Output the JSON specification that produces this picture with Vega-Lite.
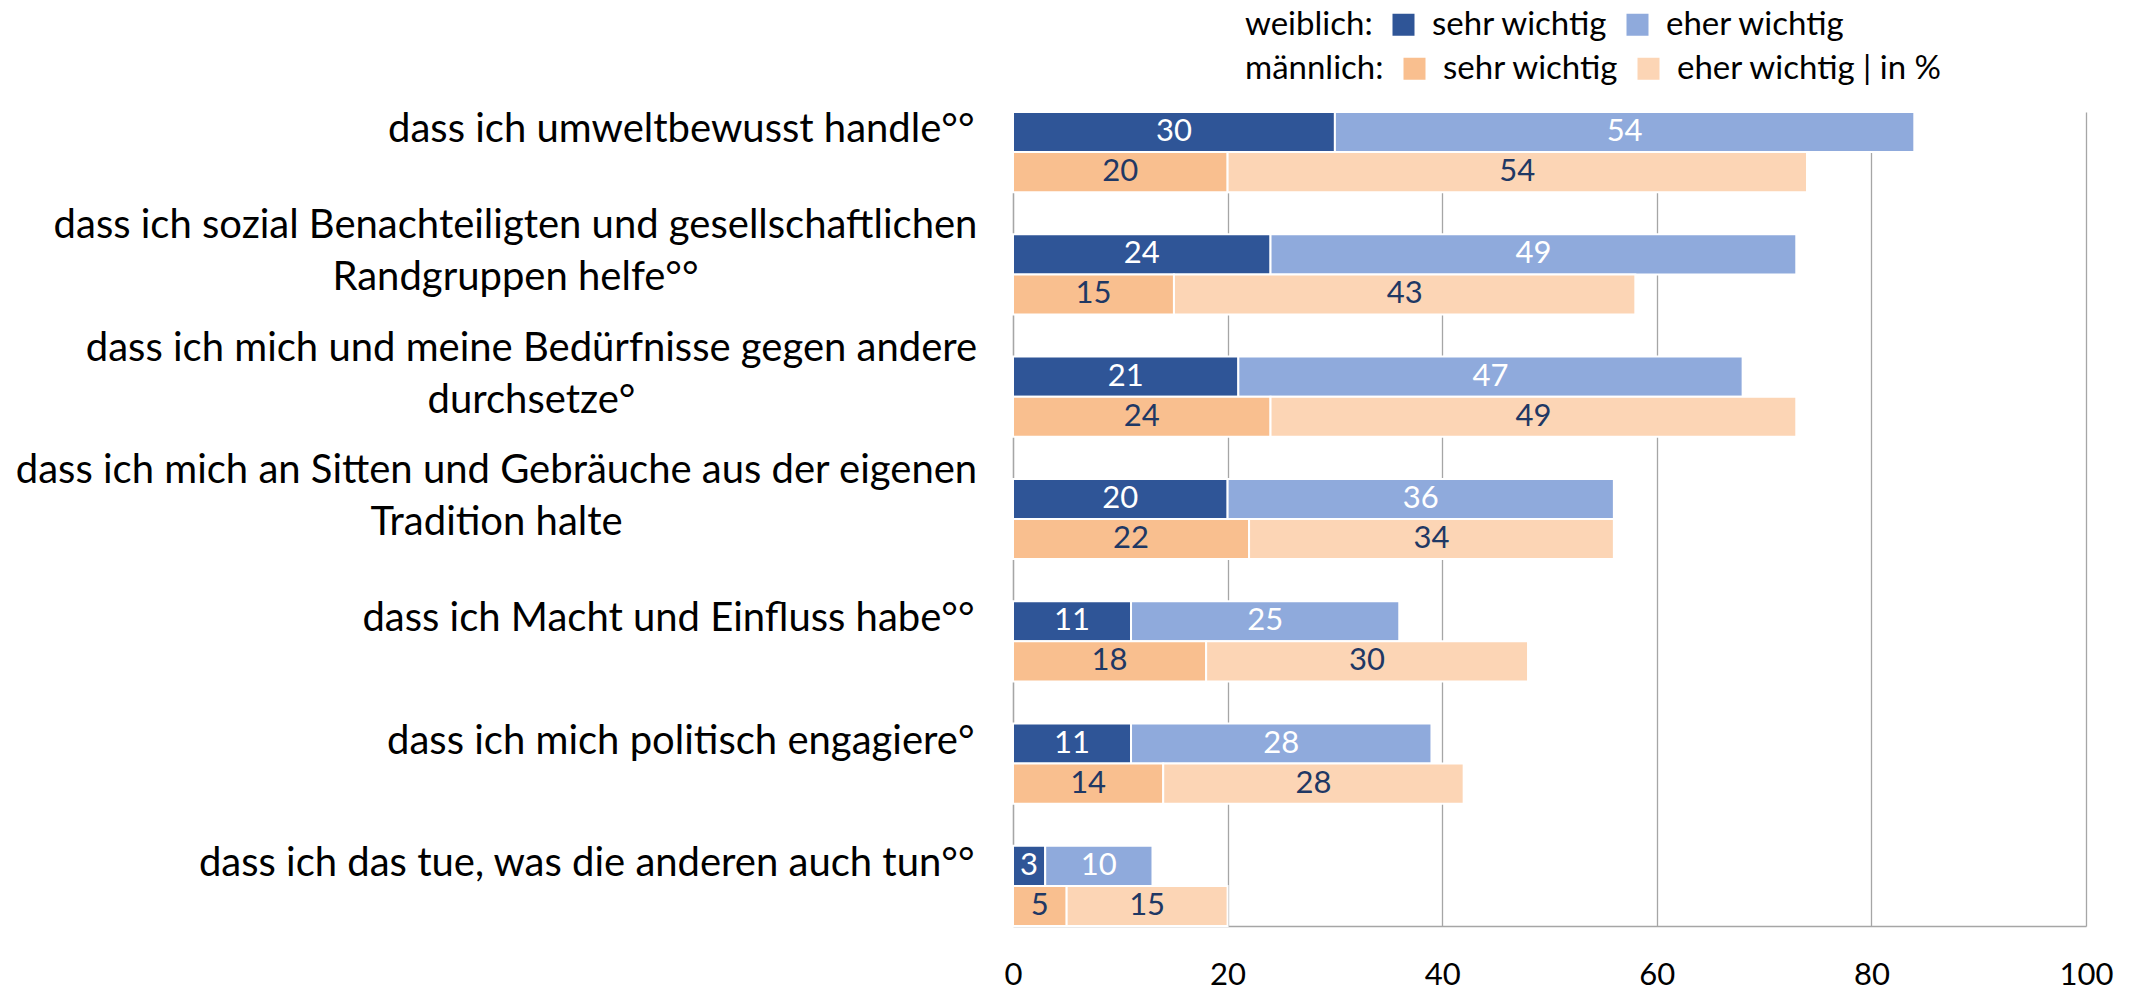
{
  "$schema": "https://vega.github.io/schema/vega-lite/v6.json",
  "width": 1073,
  "height": 814,
  "autosize": {"type": "none"},
  "padding": {"left": 1013, "top": 112, "right": 60, "bottom": 65},
  "background": "white",
  "config": {
    "view": {"stroke": null},
    "font": "Lato",
    "text": {"font": "Lato"}
  },
  "data": {
    "values": [
      {"item": "dass ich umweltbewusst handle°°", "gender": "weiblich", "level": "sehr wichtig", "value": 30},
      {"item": "dass ich umweltbewusst handle°°", "gender": "weiblich", "level": "eher wichtig", "value": 54},
      {"item": "dass ich umweltbewusst handle°°", "gender": "männlich", "level": "sehr wichtig", "value": 20},
      {"item": "dass ich umweltbewusst handle°°", "gender": "männlich", "level": "eher wichtig", "value": 54},
      {"item": "dass ich sozial Benachteiligten und gesellschaftlichen\nRandgruppen helfe°°", "gender": "weiblich", "level": "sehr wichtig", "value": 24},
      {"item": "dass ich sozial Benachteiligten und gesellschaftlichen\nRandgruppen helfe°°", "gender": "weiblich", "level": "eher wichtig", "value": 49},
      {"item": "dass ich sozial Benachteiligten und gesellschaftlichen\nRandgruppen helfe°°", "gender": "männlich", "level": "sehr wichtig", "value": 15},
      {"item": "dass ich sozial Benachteiligten und gesellschaftlichen\nRandgruppen helfe°°", "gender": "männlich", "level": "eher wichtig", "value": 43},
      {"item": "dass ich mich und meine Bedürfnisse gegen andere\ndurchsetze°", "gender": "weiblich", "level": "sehr wichtig", "value": 21},
      {"item": "dass ich mich und meine Bedürfnisse gegen andere\ndurchsetze°", "gender": "weiblich", "level": "eher wichtig", "value": 47},
      {"item": "dass ich mich und meine Bedürfnisse gegen andere\ndurchsetze°", "gender": "männlich", "level": "sehr wichtig", "value": 24},
      {"item": "dass ich mich und meine Bedürfnisse gegen andere\ndurchsetze°", "gender": "männlich", "level": "eher wichtig", "value": 49},
      {"item": "dass ich mich an Sitten und Gebräuche aus der eigenen\nTradition halte", "gender": "weiblich", "level": "sehr wichtig", "value": 20},
      {"item": "dass ich mich an Sitten und Gebräuche aus der eigenen\nTradition halte", "gender": "weiblich", "level": "eher wichtig", "value": 36},
      {"item": "dass ich mich an Sitten und Gebräuche aus der eigenen\nTradition halte", "gender": "männlich", "level": "sehr wichtig", "value": 22},
      {"item": "dass ich mich an Sitten und Gebräuche aus der eigenen\nTradition halte", "gender": "männlich", "level": "eher wichtig", "value": 34},
      {"item": "dass ich Macht und Einfluss habe°°", "gender": "weiblich", "level": "sehr wichtig", "value": 11},
      {"item": "dass ich Macht und Einfluss habe°°", "gender": "weiblich", "level": "eher wichtig", "value": 25},
      {"item": "dass ich Macht und Einfluss habe°°", "gender": "männlich", "level": "sehr wichtig", "value": 18},
      {"item": "dass ich Macht und Einfluss habe°°", "gender": "männlich", "level": "eher wichtig", "value": 30},
      {"item": "dass ich mich politisch engagiere°", "gender": "weiblich", "level": "sehr wichtig", "value": 11},
      {"item": "dass ich mich politisch engagiere°", "gender": "weiblich", "level": "eher wichtig", "value": 28},
      {"item": "dass ich mich politisch engagiere°", "gender": "männlich", "level": "sehr wichtig", "value": 14},
      {"item": "dass ich mich politisch engagiere°", "gender": "männlich", "level": "eher wichtig", "value": 28},
      {"item": "dass ich das tue, was die anderen auch tun°°", "gender": "weiblich", "level": "sehr wichtig", "value": 3},
      {"item": "dass ich das tue, was die anderen auch tun°°", "gender": "weiblich", "level": "eher wichtig", "value": 10},
      {"item": "dass ich das tue, was die anderen auch tun°°", "gender": "männlich", "level": "sehr wichtig", "value": 5},
      {"item": "dass ich das tue, was die anderen auch tun°°", "gender": "männlich", "level": "eher wichtig", "value": 15}
    ]
  },
  "encoding": {
    "y": {
      "field": "item",
      "type": "nominal",
      "sort": null,
      "title": null,
      "scale": {"paddingInner": 0.344, "paddingOuter": 0},
      "axis": {
        "labelExpr": "split(datum.value, '\\n')",
        "labelFontSize": 40,
        "labelColor": "#000000",
        "labelLineHeight": 52,
        "labelBaseline": "middle",
        "labelOffset": {"condition": {"test": "indexof(datum.value, '\\n') >= 0", "value": -48}, "value": -22},
        "labelLimit": 2000,
        "labelOverlap": false,
        "labelBound": false,
        "ticks": false,
        "domainColor": "#A6A6A6",
        "domainWidth": 1.3,
        "labelAlign": {"condition": {"test": "indexof(datum.value, '\\n') >= 0", "value": "center"}, "value": "right"},
        "labelPadding": {
          "condition": [
            {"test": "indexof(datum.value, 'Randgruppen') >= 0", "value": 498},
            {"test": "indexof(datum.value, 'durchsetze') >= 0", "value": 482},
            {"test": "indexof(datum.value, 'Tradition') >= 0", "value": 517}
          ],
          "value": 39
        }
      }
    },
    "yOffset": {
      "field": "gender",
      "type": "nominal",
      "scale": {"domain": ["weiblich", "männlich"], "paddingInner": 0, "paddingOuter": 0}
    },
    "order": {"field": "level", "sort": "descending"}
  },
  "layer": [
    {
      "transform": [{"filter": "datum.gender === 'weiblich'"}],
      "mark": {"type": "bar", "stroke": "white", "strokeWidth": 2},
      "encoding": {
        "x": {
          "field": "value",
          "type": "quantitative",
          "stack": "zero",
          "title": null,
          "scale": {"domain": [0, 100], "nice": false},
          "axis": {
            "values": [0, 20, 40, 60, 80, 100],
            "grid": true,
            "gridColor": "#A6A6A6",
            "gridWidth": 1.3,
            "ticks": false,
            "domainColor": "#A6A6A6",
            "domainWidth": 1.3,
            "labelFontSize": 31,
            "labelColor": "#000000",
            "labelPadding": 34,
            "labelBaseline": "top",
            "labelFlush": false
          }
        },
        "color": {
          "field": "level",
          "type": "nominal",
          "sort": ["sehr wichtig", "eher wichtig"],
          "scale": {"range": ["#2F5597", "#8FAADC"]},
          "legend": {
            "title": "weiblich:",
            "orient": "none",
            "legendX": 232,
            "legendY": -104,
            "direction": "horizontal",
            "titleOrient": "left",
            "titleAnchor": "middle",
            "titleBaseline": "middle",
            "titleFontSize": 33,
            "titleFontWeight": "normal",
            "titleColor": "#000000",
            "titlePadding": 14,
            "titleLimit": 1000,
            "labelFontSize": 33,
            "labelColor": "#000000",
            "labelOffset": 12,
            "labelLimit": 1000,
            "columnPadding": 13,
            "symbolType": "square",
            "symbolSize": 484,
            "symbolStrokeWidth": 0
          }
        }
      }
    },
    {
      "transform": [{"filter": "datum.gender === 'männlich'"}],
      "mark": {"type": "bar", "stroke": "white", "strokeWidth": 2},
      "encoding": {
        "x": {"field": "value", "type": "quantitative", "stack": "zero", "title": null},
        "fill": {
          "field": "level",
          "type": "nominal",
          "scale": {"domain": ["sehr wichtig", "eher wichtig"], "range": ["#F9BF8F", "#FCD5B5"]},
          "legend": {
            "title": "männlich:",
            "orient": "none",
            "legendX": 232,
            "legendY": -60,
            "direction": "horizontal",
            "titleOrient": "left",
            "titleAnchor": "middle",
            "titleBaseline": "middle",
            "titleFontSize": 33,
            "titleFontWeight": "normal",
            "titleColor": "#000000",
            "titlePadding": 14,
            "titleLimit": 1000,
            "labelFontSize": 33,
            "labelColor": "#000000",
            "labelOffset": 12,
            "labelLimit": 1000,
            "columnPadding": 13,
            "symbolType": "square",
            "symbolSize": 484,
            "symbolStrokeWidth": 0,
            "labelExpr": "datum.label === 'eher wichtig' ? 'eher wichtig | in %' : datum.label"
          }
        }
      }
    },
    {
      "transform": [{"filter": "datum.gender === 'weiblich'"}],
      "mark": {"type": "text", "fontSize": 31, "baseline": "middle", "align": "center"},
      "encoding": {
        "x": {"field": "value", "type": "quantitative", "stack": "zero", "bandPosition": 0.5, "title": null},
        "text": {"field": "value", "type": "quantitative"},
        "color": {"value": "#FFFFFF"}
      }
    },
    {
      "transform": [{"filter": "datum.gender === 'männlich'"}],
      "mark": {"type": "text", "fontSize": 31, "baseline": "middle", "align": "center"},
      "encoding": {
        "x": {"field": "value", "type": "quantitative", "stack": "zero", "bandPosition": 0.5, "title": null},
        "text": {"field": "value", "type": "quantitative"},
        "color": {"value": "#1F3864"}
      }
    }
  ]
}
